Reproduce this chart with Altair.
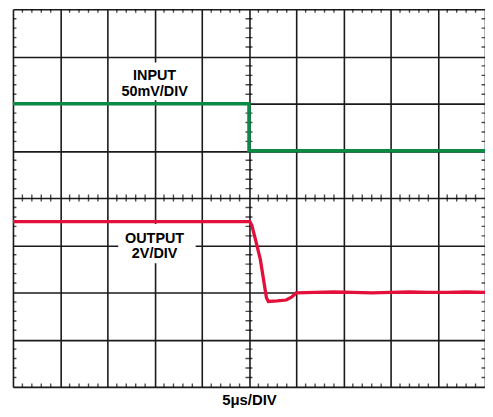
import altair as alt
import pandas as pd

# Scope traces, in divisions (x: 0..10 div, y: 0..8 div from bottom)
input_t = [0.0, 5.0, 5.0, 10.0]
input_v = [6.0, 6.0, 5.0, 5.0]

output_t = [0.0, 5.02, 5.06, 5.13, 5.24, 5.37, 5.41, 5.60, 5.79, 5.90, 6.00,
            6.4, 6.8, 7.2, 7.6, 8.0, 8.4, 8.8, 9.2, 9.6, 10.0]
output_v = [3.5, 3.5, 3.42, 3.15, 2.70, 1.89, 1.81, 1.82, 1.84, 1.90, 1.99,
            2.0, 2.01, 2.0, 1.99, 2.0, 2.01, 2.0, 2.0, 2.01, 2.0]

label_text = ["INPUT", "50mV/DIV", "OUTPUT", "2V/DIV"]
label_t = [3.0, 3.0, 3.0, 3.0]
label_v = [6.50, 6.17, 3.05, 2.72]

box_t1 = [2.23, 2.23]
box_t2 = [3.87, 3.87]
box_v1 = [6.07, 2.62]
box_v2 = [6.87, 3.45]

x_divs = list(range(11))
y_divs = list(range(9))
x_title = "5μs/DIV"

GREEN = "#0b8a44"
RED = "#e2103a"
FONT = "Liberation Sans"

# minor ticks (1/5 division) along the frame edges and centre lines
minor_x = [round(i * 0.2, 1) for i in range(1, 50) if i % 5 != 0]
minor_y = [round(i * 0.2, 1) for i in range(1, 40) if i % 5 != 0]
xt = pd.DataFrame([{"t": t, "v": v} for v in [0, 4, 8] for t in minor_x])
yt = pd.DataFrame([{"t": t, "v": v} for t in [0, 5, 10] for v in minor_y])

xs = alt.Scale(domain=[0, 10], nice=False, zero=False)
ys = alt.Scale(domain=[0, 8], nice=False, zero=False)

xaxis = alt.Axis(values=x_divs, grid=True, labels=False, ticks=False, domain=False,
                 title=x_title, titleFont=FONT, titleFontSize=15, titleFontWeight="bold",
                 titleColor="black", titleBaseline="alphabetic", titlePadding=18,
                 gridColor="#1a1a1a", gridWidth=1.6, gridOpacity=1)
yaxis = alt.Axis(values=y_divs, grid=True, labels=False, ticks=False, domain=False,
                 title=None, gridColor="#1a1a1a", gridWidth=1.6, gridOpacity=1)

base_grid = alt.Chart(pd.DataFrame({"t": [0], "v": [0]})).mark_point(opacity=0).encode(
    x=alt.X("t:Q", scale=xs, axis=xaxis),
    y=alt.Y("v:Q", scale=ys, axis=yaxis),
)

boxes = alt.Chart(pd.DataFrame({"t1": box_t1, "t2": box_t2, "v1": box_v1, "v2": box_v2})).mark_rect(
    color="white").encode(
    x=alt.X("t1:Q", scale=xs), x2="t2:Q",
    y=alt.Y("v1:Q", scale=ys), y2="v2:Q",
)

xticks = alt.Chart(xt).mark_tick(orient="vertical", size=7, thickness=1.4, color="black", clip=True).encode(
    x=alt.X("t:Q", scale=xs), y=alt.Y("v:Q", scale=ys))
yticks = alt.Chart(yt).mark_tick(orient="horizontal", size=7, thickness=1.4, color="black", clip=True).encode(
    x=alt.X("t:Q", scale=xs), y=alt.Y("v:Q", scale=ys))

inp = pd.DataFrame({"t": input_t, "v": input_v, "i": range(len(input_t))})
out = pd.DataFrame({"t": output_t, "v": output_v, "i": range(len(output_t))})

in_line = alt.Chart(inp).mark_line(color=GREEN, strokeWidth=3.5).encode(
    x=alt.X("t:Q", scale=xs), y=alt.Y("v:Q", scale=ys), order="i:Q")
out_line = alt.Chart(out).mark_line(color=RED, strokeWidth=3.3).encode(
    x=alt.X("t:Q", scale=xs), y=alt.Y("v:Q", scale=ys), order="i:Q")

labels = alt.Chart(pd.DataFrame({"t": label_t, "v": label_v, "s": label_text})).mark_text(
    font=FONT, fontSize=14.5, fontWeight="bold", color="black", align="center", baseline="alphabetic").encode(
    x=alt.X("t:Q", scale=xs), y=alt.Y("v:Q", scale=ys), text="s:N")

chart = alt.layer(base_grid, boxes, xticks, yticks, in_line, out_line, labels).properties(
    width=475, height=380,
    autosize=alt.AutoSizeParams(type="none"),
    padding={"left": 5, "top": 0, "right": 0, "bottom": 21},
).configure_view(stroke="black", strokeWidth=2).configure(background="white")

chart.save("out.html", embed_options={"renderer": "svg", "actions": False})
